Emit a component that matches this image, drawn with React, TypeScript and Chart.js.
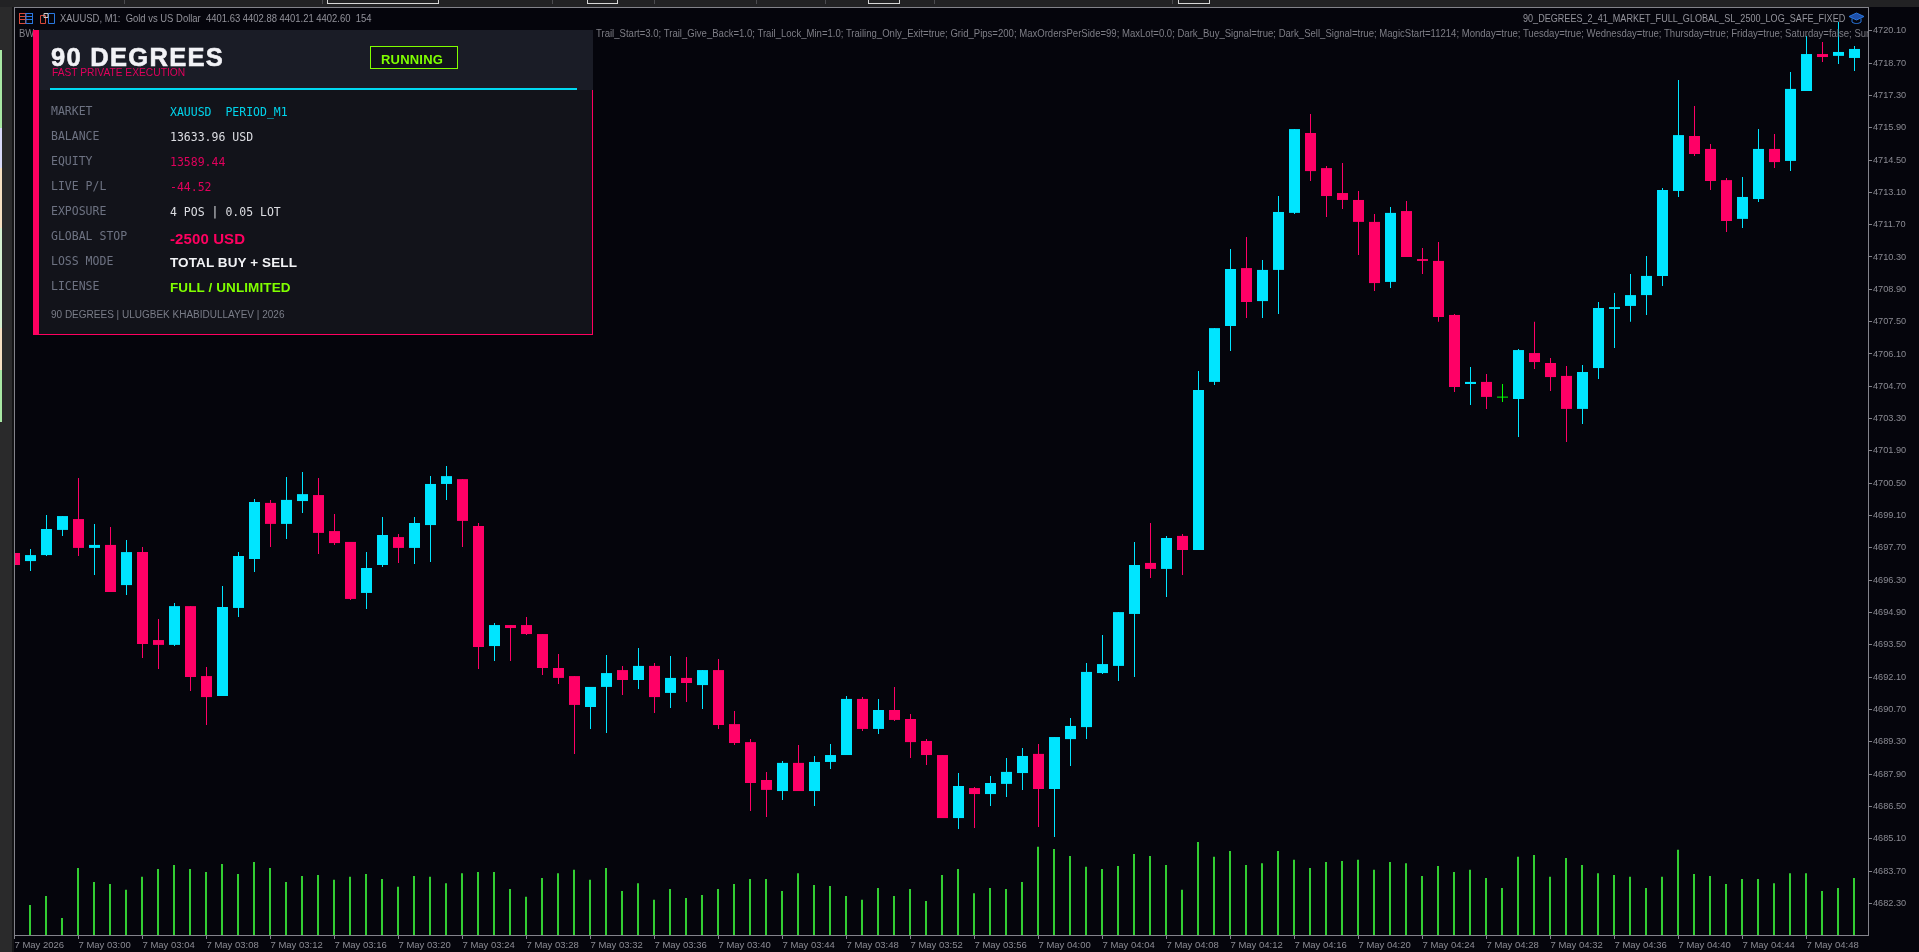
import React, { useEffect, useRef } from "react";
import { Chart, registerables } from "chart.js";

Chart.register(...registerables);

const opens = [4697.48,4697.13,4697.39,4698.48,4698.95,4697.70,4697.83,4696.09,4697.52,4693.71,4693.50,4695.18,4692.15,4691.29,4695.10,4697.22,4699.65,4698.74,4699.73,4699.99,4698.43,4697.96,4695.75,4696.96,4698.17,4697.70,4698.69,4700.47,4700.68,4698.65,4693.45,4694.36,4694.36,4693.97,4692.50,4692.15,4690.81,4691.68,4692.41,4691.98,4692.59,4691.42,4692.07,4691.76,4692.41,4690.07,4689.29,4687.65,4687.17,4688.39,4687.17,4688.43,4688.73,4691.16,4689.86,4690.68,4690.29,4689.34,4688.73,4686.00,4687.30,4687.04,4687.48,4687.95,4688.78,4687.26,4689.42,4689.94,4692.28,4692.59,4694.84,4697.05,4696.79,4698.22,4697.61,4704.89,4707.31,4709.82,4708.39,4709.74,4712.21,4715.67,4714.15,4713.07,4712.77,4711.82,4709.22,4712.29,4710.21,4710.13,4707.79,4704.80,4704.89,4704.21,4704.15,4706.14,4705.71,4705.15,4703.72,4705.49,4708.05,4708.18,4708.65,4709.48,4713.16,4715.54,4714.98,4713.63,4711.95,4712.81,4714.98,4714.46,4717.49,4719.09,4719.01,4718.92];
const highs = [4697.48,4697.65,4699.13,4699.08,4700.73,4698.74,4698.61,4698.04,4697.74,4694.62,4695.31,4695.18,4692.54,4696.05,4697.52,4699.82,4699.78,4700.77,4700.99,4700.73,4699.17,4697.96,4697.52,4699.04,4698.30,4699.04,4700.81,4701.25,4700.68,4698.78,4694.45,4694.36,4694.71,4693.97,4693.11,4692.15,4691.68,4693.06,4692.59,4693.37,4692.72,4693.02,4692.98,4692.41,4692.89,4690.64,4689.42,4688.00,4688.47,4689.16,4688.69,4689.21,4691.29,4691.24,4691.16,4691.68,4690.51,4689.42,4688.73,4687.95,4687.35,4687.82,4688.60,4689.03,4689.21,4689.51,4690.33,4692.72,4693.93,4694.92,4697.96,4698.78,4698.22,4698.30,4705.36,4707.22,4710.65,4711.17,4710.17,4712.94,4715.84,4716.49,4714.24,4714.37,4713.16,4712.16,4712.47,4712.73,4710.69,4710.95,4707.83,4705.54,4705.23,4704.80,4706.32,4707.49,4705.93,4705.58,4705.62,4708.35,4708.74,4709.56,4710.34,4713.29,4717.97,4716.84,4715.19,4713.72,4713.76,4715.84,4715.63,4718.31,4719.87,4719.61,4720.48,4719.44];
const lows = [4696.96,4696.70,4697.35,4698.22,4697.35,4696.53,4695.79,4695.66,4692.93,4692.46,4693.45,4691.50,4690.03,4691.29,4694.71,4696.66,4697.74,4698.09,4699.21,4697.44,4697.83,4695.44,4695.05,4696.87,4697.05,4697.00,4697.09,4699.78,4697.74,4692.46,4692.80,4692.80,4693.93,4692.20,4691.81,4688.78,4689.86,4689.68,4691.33,4691.59,4690.55,4690.77,4691.03,4690.72,4689.86,4689.16,4686.31,4686.05,4686.78,4687.17,4686.52,4688.13,4688.73,4689.77,4689.64,4690.20,4688.60,4688.30,4686.00,4685.53,4685.57,4686.52,4686.91,4687.22,4685.61,4685.18,4688.26,4689.42,4692.24,4691.94,4692.11,4696.40,4695.57,4696.53,4697.61,4704.76,4706.23,4707.66,4707.66,4707.83,4712.16,4713.59,4712.03,4712.38,4710.39,4708.83,4708.96,4710.30,4709.56,4707.49,4704.45,4703.89,4703.72,4704.02,4702.50,4705.45,4704.50,4702.29,4703.07,4705.02,4706.36,4707.49,4707.79,4709.04,4712.90,4714.67,4713.20,4711.38,4711.56,4712.68,4714.15,4714.02,4717.49,4718.75,4718.66,4718.36];
const closes = [4696.96,4697.39,4698.52,4699.08,4697.70,4697.83,4695.79,4697.52,4693.54,4693.50,4695.18,4692.11,4691.24,4695.14,4697.35,4699.69,4698.74,4699.78,4700.03,4698.35,4697.91,4695.49,4696.83,4698.26,4697.70,4698.78,4700.47,4700.81,4698.87,4693.41,4694.36,4694.23,4693.97,4692.50,4692.07,4690.90,4691.68,4692.28,4691.98,4692.59,4691.24,4692.07,4691.85,4692.41,4690.03,4689.25,4687.52,4687.22,4688.39,4687.17,4688.43,4688.73,4691.16,4689.86,4690.68,4690.25,4689.29,4688.73,4686.00,4687.39,4687.04,4687.52,4688.00,4688.69,4687.26,4689.51,4689.99,4692.33,4692.67,4694.92,4696.96,4696.79,4698.13,4697.61,4704.54,4707.22,4709.78,4708.35,4709.74,4712.25,4715.84,4714.02,4712.94,4712.77,4711.82,4709.17,4712.21,4710.30,4710.13,4707.70,4704.67,4704.89,4704.24,4704.21,4706.27,4705.75,4705.10,4703.72,4705.32,4708.09,4708.13,4708.65,4709.48,4713.20,4715.58,4714.76,4713.59,4711.86,4712.90,4714.98,4714.41,4717.58,4719.09,4718.96,4719.18,4719.31];
const volumes = [12,81,105,46,181,143,138,122,157,178,189,178,170,192,165,197,181,143,159,162,149,157,165,151,130,159,157,140,167,170,170,124,103,154,167,176,149,181,119,140,95,124,100,108,124,138,151,151,119,167,135,132,105,95,127,105,124,92,162,178,113,127,124,143,238,232,213,184,178,186,219,213,189,122,251,211,227,189,194,227,203,181,197,200,203,176,197,194,159,186,170,176,154,127,211,216,157,208,189,167,162,157,127,157,230,165,159,138,151,151,140,167,167,119,127,154];

const priceTicks = [4720.10,4718.70,4717.30,4715.90,4714.50,4713.10,4711.70,4710.30,4708.90,4707.50,4706.10,4704.70,4703.30,4701.90,4700.50,4699.10,4697.70,4696.30,4694.90,4693.50,4692.10,4690.70,4689.30,4687.90,4686.50,4685.10,4683.70,4682.30];
const timeTickBars = [0,4,8,12,16,20,24,28,32,36,40,44,48,52,56,60,64,68,72,76,80,84,88,92,96,100,104,108,112];
const timeTickLabels = ["7 May 2026","7 May 03:00","7 May 03:04","7 May 03:08","7 May 03:12","7 May 03:16","7 May 03:20","7 May 03:24","7 May 03:28","7 May 03:32","7 May 03:36","7 May 03:40","7 May 03:44","7 May 03:48","7 May 03:52","7 May 03:56","7 May 04:00","7 May 04:04","7 May 04:08","7 May 04:12","7 May 04:16","7 May 04:20","7 May 04:24","7 May 04:28","7 May 04:32","7 May 04:36","7 May 04:40","7 May 04:44","7 May 04:48"];

const panelRows = [
  { label: "MARKET", value: "XAUUSD  PERIOD_M1", color: "#00d4ec", bold: false },
  { label: "BALANCE", value: "13633.96 USD", color: "#dcdde2", bold: false },
  { label: "EQUITY", value: "13589.44", color: "#e0005c", bold: false },
  { label: "LIVE P/L", value: "-44.52", color: "#e0005c", bold: false },
  { label: "EXPOSURE", value: "4 POS | 0.05 LOT", color: "#dcdde2", bold: false },
  { label: "GLOBAL STOP", value: "-2500 USD", color: "#ff0060", bold: true },
  { label: "LOSS MODE", value: "TOTAL BUY + SELL", color: "#f2f3f6", bold: true },
  { label: "LICENSE", value: "FULL / UNLIMITED", color: "#80ff00", bold: true },
];

const headerText = "XAUUSD, M1:  Gold vs US Dollar  4401.63 4402.88 4401.21 4402.60  154";
const expertName = "90_DEGREES_2_41_MARKET_FULL_GLOBAL_SL_2500_LOG_SAFE_FIXED";
const paramsText = "Trail_Start=3.0; Trail_Give_Back=1.0; Trail_Lock_Min=1.0; Trailing_Only_Exit=true; Grid_Pips=200; MaxOrdersPerSide=99; MaxLot=0.0; Dark_Buy_Signal=true; Dark_Sell_Signal=true; MagicStart=11214; Monday=true; Tuesday=true; Wednesday=true; Thursday=true; Friday=true; Saturday=false; Sunday=false";

const BG = "#05050c";
const CYAN = "#00e5ff";
const PINK = "#ff0066";
const DOJI = "#00ff00";
const VOL = "#32cd32";
const AXIS = "#83838b";
const AXIS_TEXT = "#8b8b93";
const SANS = "'Liberation Sans', sans-serif";
const MONO = "'DejaVu Sans Mono', monospace";

const candleColor = (i: number) =>
  closes[i] > opens[i] ? CYAN : closes[i] < opens[i] ? PINK : DOJI;

const framePlugin = {
  id: "frame",
  afterDatasetsDraw(chart: any) {
    const { left, right, top, bottom } = chart.chartArea;
    const c = chart.ctx;
    c.save();
    c.strokeStyle = AXIS;
    c.lineWidth = 1;
    c.strokeRect(left + 0.5, top + 0.5, right - left, bottom - top);
    c.restore();
  },
};

function Txt({ x, y, sx, style, children }: any) {
  return (
    <div
      style={{
        position: "absolute",
        left: x,
        top: y,
        transform: `translateY(-50%) scaleX(${sx ?? 1})`,
        transformOrigin: "left center",
        whiteSpace: "pre",
        lineHeight: 1,
        ...style,
      }}
    >
      {children}
    </div>
  );
}

const stripBlocks = [
  { top: 50, height: 78, color: "#a9e9a4" },
  { top: 128, height: 40, color: "#d9dafa" },
  { top: 168, height: 60, color: "#f7e0c2" },
  { top: 228, height: 100, color: "#d4f0d0" },
  { top: 328, height: 42, color: "#f7e0c2" },
  { top: 370, height: 52, color: "#a9e9a4" },
];
const toolbarTabs = [
  { x: 327, w: 110 },
  { x: 587, w: 29 },
  { x: 868, w: 30 },
  { x: 1178, w: 30 },
];
const toolbarSeparators = [124, 322, 552, 654, 756, 825, 934, 1172];

export default function App() {
  const ref = useRef<HTMLCanvasElement | null>(null);

  useEffect(() => {
    document.body.style.margin = "0";
    document.body.style.background = BG;
    const idx = opens.map((_, i) => i);
    const chart = new Chart(ref.current as HTMLCanvasElement, {
      type: "bar",
      data: {
        datasets: [
          {
            label: "Volume",
            data: idx.map((i) => ({ x: i, y: volumes[i] })),
            backgroundColor: VOL,
            barThickness: 2,
            grouped: false,
            inflateAmount: 0,
            order: 3,
            xAxisID: "xVol",
            yAxisID: "yVol",
          },
          {
            label: "Wick",
            data: idx.map((i) => ({ x: i, y: [lows[i], highs[i]] })),
            backgroundColor: idx.map(candleColor),
            barThickness: 1,
            grouped: false,
            inflateAmount: 0,
            order: 2,
            xAxisID: "x",
            yAxisID: "y",
          },
          {
            label: "Body",
            data: idx.map((i) => ({ x: i, y: [opens[i], closes[i]] })),
            backgroundColor: idx.map(candleColor),
            barThickness: 11,
            minBarLength: 1,
            grouped: false,
            inflateAmount: 0,
            order: 1,
            xAxisID: "x",
            yAxisID: "y",
          },
        ] as any,
      },
      options: {
        animation: false,
        responsive: false,
        devicePixelRatio: 1,
        events: [],
        layout: { padding: { left: 14, top: 7, right: 0, bottom: 0 } },
        plugins: { legend: { display: false }, tooltip: { enabled: false } },
        scales: {
          x: {
            type: "linear",
            position: "bottom",
            offset: false,
            min: -0.03125,
            max: 115.84375,
            afterBuildTicks: (s: any) => {
              s.ticks = timeTickBars.map((v) => ({ value: v }));
            },
            afterFit: (s: any) => {
              s.height = 17;
            },
            grid: { drawOnChartArea: false, offset: false, tickLength: 4, color: AXIS },
            border: { color: AXIS },
            ticks: {
              autoSkip: false,
              maxRotation: 0,
              align: "start",
              padding: 1,
              color: AXIS_TEXT,
              font: { family: SANS, size: 9.5 },
              callback: (v: any) => timeTickLabels[timeTickBars.indexOf(v)] ?? "",
            },
          },
          xVol: {
            type: "linear",
            display: false,
            offset: false,
            min: 0,
            max: 115.875,
            grid: { offset: false },
          },
          y: {
            type: "linear",
            position: "right",
            min: 4680.936,
            max: 4721.127,
            afterBuildTicks: (s: any) => {
              s.ticks = priceTicks.map((v) => ({ value: v }));
            },
            afterFit: (s: any) => {
              s.width = 51;
            },
            grid: { drawOnChartArea: false, tickLength: 4, color: AXIS },
            border: { color: AXIS },
            ticks: {
              autoSkip: false,
              padding: 1,
              color: AXIS_TEXT,
              font: { family: SANS, size: 9.2 },
              callback: (v: any) => Number(v).toFixed(2),
            },
          },
          yVol: {
            type: "linear",
            display: false,
            min: 0,
            max: 2505.6,
          },
        },
      } as any,
      plugins: [framePlugin],
    });
    return () => chart.destroy();
  }, []);

  const small = { fontFamily: SANS, fontSize: 10.5, color: "#93939b" };

  return (
    <div style={{ position: "relative", width: 1919, height: 952, overflow: "hidden", background: BG }}>
      <canvas ref={ref} width={1919} height={952} style={{ display: "block", position: "absolute", left: 0, top: 0 }} />

      {/* terminal chrome round the chart */}
      <div style={{ position: "absolute", left: 0, top: 0, width: 1919, height: 7, background: "#222224" }} />
      {toolbarSeparators.map((x) => (
        <div key={x} style={{ position: "absolute", left: x, top: 0, width: 1, height: 4, background: "#4c4c50" }} />
      ))}
      {toolbarTabs.map((t) => (
        <div key={t.x} style={{ position: "absolute", left: t.x, top: -2, width: t.w, height: 4, border: "1px solid #d8d8d8" }} />
      ))}
      <div style={{ position: "absolute", left: 0, top: 7, width: 12, height: 945, background: "#2a2a2b" }} />
      <div style={{ position: "absolute", left: 12, top: 7, width: 2, height: 945, background: "#141416" }} />
      {stripBlocks.map((b) => (
        <div key={b.top} style={{ position: "absolute", left: 0, top: b.top, width: 2, height: b.height, background: b.color }} />
      ))}

      {/* chart header */}
      <svg style={{ position: "absolute", left: 19, top: 13 }} width="36" height="11" viewBox="0 0 36 11">
        <rect x="0.5" y="0.5" width="6" height="10" fill="none" stroke="#d84a3a" />
        <path d="M1 3.5h5M1 6.5h5" stroke="#d84a3a" />
        <rect x="7" y="0.5" width="6.5" height="10" fill="none" stroke="#2a78e0" />
        <path d="M7 3.5h6M7 6.5h6" stroke="#2a78e0" />
        <path d="M21.5 2.5h5v8h-5z" fill="none" stroke="#d84a3a" />
        <path d="M29.5 0.5h6v10h-6z" fill="none" stroke="#2a78e0" />
        <path d="M25 0.5h4v4h-4z" fill="none" stroke="#c8c8c8" />
      </svg>
      <Txt x={60} y={18} sx={0.9} style={small}>{headerText}</Txt>
      <Txt x={19} y={33} sx={0.9} style={{ ...small, color: "#84848c" }}>BW</Txt>
      <div style={{ position: "absolute", left: 596, top: 27, width: 1272, height: 12, overflow: "hidden" }}>
        <Txt x={0} y={6} sx={0.91} style={{ ...small, color: "#7e7e86" }}>{paramsText}</Txt>
      </div>
      <Txt x={1523} y={18} sx={0.864} style={small}>{expertName}</Txt>
      <svg style={{ position: "absolute", left: 1848, top: 12 }} width="17" height="14" viewBox="0 0 17 14">
        <path d="M1 4.5 8.5 1 16 4.5 8.500 8z" fill="#1f4fa8" stroke="#2a78e0" />
        <path d="M4 6.5v3.5c2.500 2 6.500 2 9 0V6.500" fill="none" stroke="#2a78e0" />
      </svg>

      {/* status panel */}
      <div style={{ position: "absolute", left: 33, top: 30, width: 560, height: 305, background: "#12131a", boxSizing: "border-box", borderRight: "1px solid #ff0060", borderBottom: "1px solid #ff0060" }} />
      <div style={{ position: "absolute", left: 33, top: 30, width: 6, height: 305, background: "#ff0060" }} />
      <div style={{ position: "absolute", left: 39, top: 30, width: 554, height: 60, background: "#1a1c26" }} />
      <div style={{ position: "absolute", left: 50, top: 88, width: 527, height: 2, background: "#00d8f0" }} />
      <Txt x={51} y={58} style={{ fontFamily: SANS, fontWeight: 700, fontSize: 25.5, color: "#f2f2f6", WebkitTextStroke: "0.6px #f2f2f6", letterSpacing: 1.3 }}>90 DEGREES</Txt>
      <Txt x={52} y={73} sx={0.89} style={{ fontFamily: SANS, fontSize: 11.5, color: "#e0005c" }}>FAST PRIVATE EXECUTION</Txt>
      <div style={{ position: "absolute", left: 370, top: 46, width: 88, height: 23, boxSizing: "border-box", border: "1px solid #80ff00", background: "#11131a" }} />
      <Txt x={381} y={58.5} style={{ fontFamily: SANS, fontWeight: 700, fontSize: 13, color: "#80ff00", letterSpacing: 0.2 }}>RUNNING</Txt>
      {panelRows.map((r, i) => (
        <React.Fragment key={r.label}>
          <Txt x={51} y={112 + i * 25} style={{ fontFamily: MONO, fontSize: 11.5, color: "#6d7282" }}>{r.label}</Txt>
          <Txt
            x={170}
            y={r.bold ? 112.5 + i * 25 : 113 + i * 25}
            style={
              r.bold
                ? { fontFamily: SANS, fontWeight: 700, fontSize: r.label === "GLOBAL STOP" ? 15 : 13.5, color: r.color, letterSpacing: 0.1 }
                : { fontFamily: MONO, fontSize: 11.5, color: r.color }
            }
          >
            {r.value}
          </Txt>
        </React.Fragment>
      ))}
      <Txt x={51} y={315} style={{ fontFamily: SANS, fontSize: 10, color: "#7a7d88" }}>90 DEGREES | ULUGBEK KHABIDULLAYEV | 2026</Txt>
    </div>
  );
}
